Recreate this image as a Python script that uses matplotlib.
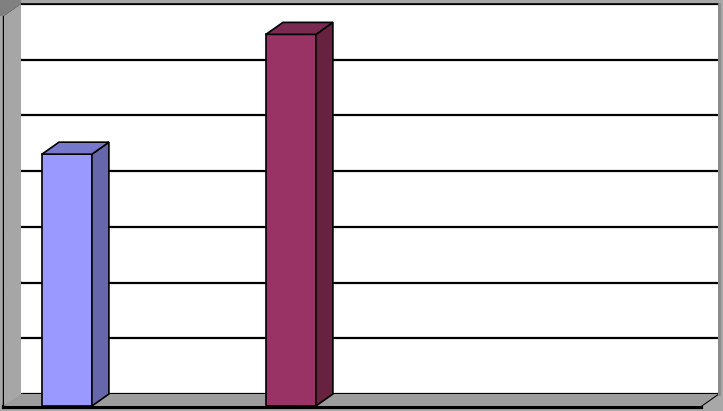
import numpy as np
import matplotlib
matplotlib.use("Agg")
import matplotlib.pyplot as plt
from matplotlib.patches import Polygon

# data (no labels are shown on the chart)
categories = ["A", "B", "C"]
values = [4.52, 6.67]
front_colors = ["#9999FF", "#993366"]
side_colors = ["#6666AA", "#66223F"]
top_colors = ["#7777CC", "#7A2952"]
y_ticks = [0, 1, 2, 3, 4, 5, 6, 7]

W, H, DPI = 723, 411, 100
DX, DY = 17, 12  # depth of the 3d look, in pixels
bar_w = 0.223

fig = plt.figure(figsize=(W / DPI, H / DPI), dpi=DPI, facecolor="#A8A8A8")

# back wall
ax = fig.add_axes([21 / W, 17 / H, 697 / W, 390 / H])
ax.set_facecolor("white")
ax.set_xlim(-0.281, 2.831)
ax.set_ylim(0, 7)
ax.set_yticks(y_ticks)
ax.set_xticks([])
ax.yaxis.grid(True, color="black", lw=1.6)
ax.tick_params(left=False, labelleft=False)
for s in ax.spines.values():
    s.set_visible(False)
ax.spines["top"].set_visible(True)
ax.spines["top"].set_color("black")
ax.spines["top"].set_linewidth(1.2)

fig.canvas.draw()
to_px = ax.transData.transform


def front(pt):
    # shift a back-wall point to the front plane
    return (pt[0] - DX, pt[1] - DY)


def poly(pts, fc, ec="black", lw=1.2, z=3):
    fig.patches.append(Polygon(pts, closed=True, fc=fc, ec=ec, lw=lw,
                               transform=None, zorder=z, figure=fig))


x0, x1 = ax.get_xlim()
bl, br = to_px((x0, 0)), to_px((x1, 0))
tl = to_px((x0, 7))

# darker corner above the left wall
ftl = front(tl)
poly([(0, H), (tl[0], H), tl, ftl, (0, ftl[1])], "#808080", ec="none", lw=0, z=2)

# left wall
poly([bl, tl, front(tl), front(bl)], "#A6A6A6", ec="none", lw=0)
for t in y_ticks[1:]:
    p = to_px((x0, t))
    fig.add_artist(plt.Line2D([p[0], p[0] - DX], [p[1], p[1] - DY],
                              color="black", lw=1.2, transform=None))
fig.add_artist(plt.Line2D([bl[0] - DX, tl[0] - DX], [bl[1] - DY, tl[1] - DY],
                          color="black", lw=2.5, transform=None))

# floor
poly([bl, br, front(br), front(bl)], "#9C9C9C", ec="none", lw=0)
fig.add_artist(plt.Line2D([bl[0] - DX, br[0] - DX], [bl[1] - DY - 1, br[1] - DY - 1],
                          color="black", lw=3, transform=None))
fig.add_artist(plt.Line2D([br[0], br[0] - DX], [br[1], br[1] - DY],
                          color="black", lw=1.5, transform=None))

# right edge of the wall
fig.add_artist(plt.Line2D([br[0] + 1, br[0] + 1], [br[1], to_px((x1, 7))[1]],
                          color="#8A8A8A", lw=2, transform=None))

# bars
for i, v in enumerate(values):
    a = to_px((i - bar_w / 2, 0))
    b = to_px((i + bar_w / 2, 0))
    c = to_px((i + bar_w / 2, v))
    d = to_px((i - bar_w / 2, v))
    poly([front(a), front(b), front(c), front(d)], front_colors[i], z=4)
    poly([front(b), b, c, front(c)], side_colors[i], z=4)
    poly([front(d), front(c), c, d], top_colors[i], z=4)

fig.savefig("out.png", dpi=DPI, facecolor=fig.get_facecolor())
